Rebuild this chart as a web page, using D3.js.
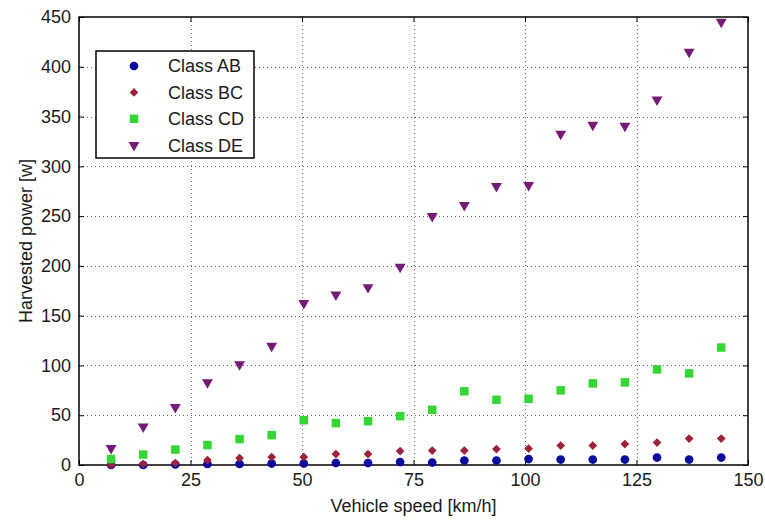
<!DOCTYPE html>
<html>
<head>
<meta charset="utf-8">
<script src="https://cdn.jsdelivr.net/npm/d3@7"></script>
<style>
  html, body { margin: 0; padding: 0; background: #fff; }
  svg text { font-family: "Liberation Sans", Arial, sans-serif; fill: #1a1a1a; }
</style>
</head>
<body>
<svg id="chart" width="765" height="521"></svg>
<script>
// Vehicle speeds (km/h) at which the harvested power was evaluated
const speeds = [7.2, 14.4, 21.6, 28.8, 36, 43.2, 50.4, 57.6, 64.8, 72,
                79.2, 86.4, 93.6, 100.8, 108, 115.2, 122.4, 129.6, 136.8, 144];

// Harvested power [W] for each road class
const classAB = [0, 0, 0.5, 1, 1, 1.5, 1.5, 2, 2, 3,
                 2.5, 4.5, 4.5, 6, 5.5, 5.5, 5.5, 7.5, 5.5, 7.5];
const classBC = [0, 1, 2, 5, 7, 8, 8, 11, 11, 14,
                 14.5, 14.5, 16, 16.5, 19.5, 19.5, 21, 22.5, 26.5, 26.5];
const classCD = [6, 10.5, 15.5, 20, 26, 30, 45, 42, 44, 49,
                 55.5, 74, 65.5, 66.5, 75, 82, 83, 96, 92, 118];
const classDE = [17, 38.5, 58, 83, 101, 119.5, 162.5, 171, 178.5, 199,
                 250, 261, 280, 281, 332.5, 341.5, 340.5, 367, 415, 445];

const seriesNames = ["Class AB", "Class BC", "Class CD", "Class DE"];
const seriesValues = [classAB, classBC, classCD, classDE];

const xTicks = [0, 25, 50, 75, 100, 125, 150];
const yTicks = [0, 50, 100, 150, 200, 250, 300, 350, 400, 450];

const colors = ["#0a0a9e", "#9c2238", "#33d633", "#761a78"];
// circle, diamond (square turned 45°), square, downward triangle
const shapes = [d3.symbolCircle, d3.symbolSquare, d3.symbolSquare, d3.symbolTriangle];
const sizes = [60, 38, 72, 52];
const turns = [0, 45, 0, 180];

const svg = d3.select("#chart");
const L = 79, R = 748, T = 17, B = 465;

const x = d3.scaleLinear().domain([0, 150]).range([L, R]);
const y = d3.scaleLinear().domain([0, 450]).range([B, T]);

// dotted grid
const grid = svg.append("g").attr("stroke", "#666").attr("stroke-width", 1)
  .attr("stroke-dasharray", "1,3");
grid.selectAll("line.gx").data(xTicks.slice(1, -1)).join("line")
  .attr("x1", d => Math.round(x(d)) + 0.5).attr("x2", d => Math.round(x(d)) + 0.5)
  .attr("y1", T).attr("y2", B);
grid.selectAll("line.gy").data(yTicks.slice(1, -1)).join("line")
  .attr("y1", d => Math.round(y(d)) + 0.5).attr("y2", d => Math.round(y(d)) + 0.5)
  .attr("x1", L).attr("x2", R);

// axes with inward ticks on all four sides
const fmt = d3.format("d");
const axB = svg.append("g").attr("transform", `translate(0,${B})`)
  .call(d3.axisBottom(x).tickValues(xTicks).tickFormat(fmt).tickSize(-5).tickPadding(8));
const axL = svg.append("g").attr("transform", `translate(${L},0)`)
  .call(d3.axisLeft(y).tickValues(yTicks).tickFormat(fmt).tickSize(-5).tickPadding(8));
const axT = svg.append("g").attr("transform", `translate(0,${T})`)
  .call(d3.axisTop(x).tickValues(xTicks).tickFormat("").tickSize(-5));
const axR = svg.append("g").attr("transform", `translate(${R},0)`)
  .call(d3.axisRight(y).tickValues(yTicks).tickFormat("").tickSize(-5));
[axB, axL, axT, axR].forEach(g => {
  g.select(".domain").remove();
  g.selectAll("line").attr("stroke", "#000");
  g.selectAll("text").attr("font-size", 18).attr("fill", "#1a1a1a");
});

// plot box
svg.append("rect").attr("x", L).attr("y", T).attr("width", R - L).attr("height", B - T)
  .attr("fill", "none").attr("stroke", "#000").attr("stroke-width", 1.5);

// markers
seriesValues.forEach((vals, i) => {
  const sym = d3.symbol().type(shapes[i]).size(sizes[i]);
  svg.append("g").selectAll("path").data(vals).join("path")
    .attr("d", sym)
    .attr("transform", (d, j) =>
      `translate(${x(speeds[j])},${y(d)}) rotate(${turns[i]})`)
    .attr("fill", colors[i]);
});

// legend
const lg = svg.append("g");
lg.append("rect").attr("x", 96).attr("y", 51).attr("width", 158).attr("height", 107)
  .attr("fill", "#fff").attr("stroke", "#000").attr("stroke-width", 1.5);
seriesNames.forEach((name, i) => {
  const cy = 66 + i * 26.4;
  lg.append("path").attr("d", d3.symbol().type(shapes[i]).size(sizes[i])())
    .attr("transform", `translate(134,${cy}) rotate(${turns[i]})`)
    .attr("fill", colors[i]);
  lg.append("text").attr("x", 168).attr("y", cy).attr("dy", "0.35em")
    .attr("font-size", 18).text(name);
});

// axis titles
svg.append("text").attr("x", (L + R) / 2).attr("y", 512).attr("text-anchor", "middle")
  .attr("font-size", 18).text("Vehicle speed [km/h]");
svg.append("text").attr("transform", `translate(32,${(T + B) / 2}) rotate(-90)`)
  .attr("text-anchor", "middle").attr("font-size", 18).text("Harvested power [w]");
</script>
</body>
</html>
